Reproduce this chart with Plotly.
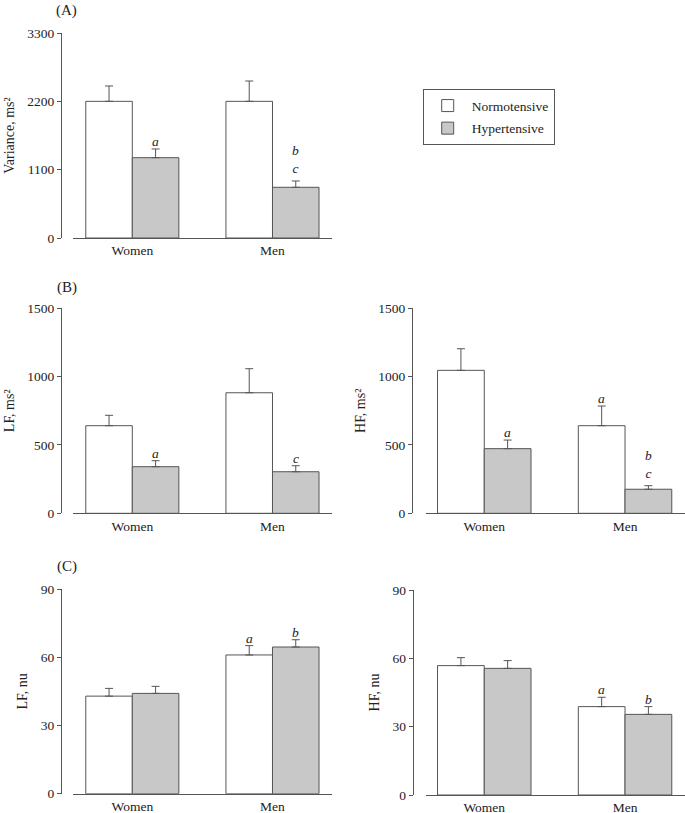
import plotly.graph_objects as go

# ---------------- data ----------------
categories = ["Women", "Men"]
cat_pos = [0, 1]

variance_normo = [2200, 2200]
variance_normo_sem = [247, 327]
variance_hyper = [1293, 816]
variance_hyper_sem = [140, 102]

lf_ms_normo = [641, 882]
lf_ms_normo_sem = [76, 176]
lf_ms_hyper = [341, 304]
lf_ms_hyper_sem = [44, 44]

hf_ms_normo = [1046, 641]
hf_ms_normo_sem = [158, 144]
hf_ms_hyper = [473, 176]
hf_ms_hyper_sem = [63, 26]

lf_nu_normo = [42.9, 61.0]
lf_nu_normo_sem = [3.4, 4.1]
lf_nu_hyper = [44.1, 64.5]
lf_nu_hyper_sem = [3.1, 3.2]

hf_nu_normo = [56.8, 38.8]
hf_nu_normo_sem = [3.5, 4.1]
hf_nu_hyper = [55.6, 35.4]
hf_nu_hyper_sem = [3.4, 3.4]

# significance letters: (category index, series, letters top->bottom)
letters_A = [(0, "hyper", ["a"]), (1, "hyper", ["b", "c"])]
letters_B1 = [(0, "hyper", ["a"]), (1, "hyper", ["c"])]
letters_B2 = [(0, "hyper", ["a"]), (1, "normo", ["a"]), (1, "hyper", ["b", "c"])]
letters_C1 = [(1, "normo", ["a"]), (1, "hyper", ["b"])]
letters_C2 = [(1, "normo", ["a"]), (1, "hyper", ["b"])]

series_names = ["Normotensive", "Hypertensive"]

# ---------------- layout geometry (pixels of the page) ----------------
W, H = 685, 813
FONT = "Liberation Serif, Times New Roman, serif"
LINE = "#555555"
GRAY = "#c8c8c8"
TXT = "#222222"


def fx(px):
    return px / W


def fy(py):
    return 1 - py / H


panels = [
    # name, normo, normo_sem, hyper, hyper_sem, ymax, dtick, title, x0, x1, ytop, ybot, yaxis_x, xrange, letters
    ("A", variance_normo, variance_normo_sem, variance_hyper, variance_hyper_sem,
     3300, 1100, "Variance, ms²", 73.3, 331.5, 33, 238, 61, [-0.421, 1.421], letters_A),
    ("B1", lf_ms_normo, lf_ms_normo_sem, lf_ms_hyper, lf_ms_hyper_sem,
     1500, 500, "LF, ms²", 73.3, 331.5, 308.3, 513.3, 61, [-0.421, 1.421], letters_B1),
    ("B2", hf_ms_normo, hf_ms_normo_sem, hf_ms_hyper, hf_ms_hyper_sem,
     1500, 500, "HF, ms²", 426, 685, 308.3, 513.3, 412, [-0.414, 1.426], letters_B2),
    ("C1", lf_nu_normo, lf_nu_normo_sem, lf_nu_hyper, lf_nu_hyper_sem,
     90, 30, "LF, nu", 73.3, 331.5, 589, 793.7, 61, [-0.421, 1.421], letters_C1),
    ("C2", hf_nu_normo, hf_nu_normo_sem, hf_nu_hyper, hf_nu_hyper_sem,
     90, 30, "HF, nu", 426, 685, 590, 795, 412.7, [-0.414, 1.426], letters_C2),
]

fig = go.Figure()
layout = {}
annotations = []
BARGAP = 0.336
half = (1 - BARGAP) / 4  # offset of each bar centre from the category centre

for i, (name, nv, ns, hv, hs, ymax, dtick, ytitle, x0, x1, yt, yb, yax, xr, letters) in enumerate(panels):
    k = "" if i == 0 else str(i + 1)
    xa, ya = "x" + k, "y" + k
    for j, (vals, sem, color) in enumerate([(nv, ns, "white"), (hv, hs, GRAY)]):
        fig.add_trace(go.Bar(
            x=cat_pos, y=vals, name=series_names[j],
            legendgroup=series_names[j], showlegend=(i == 0),
            marker=dict(color=color, line=dict(color=LINE, width=1)),
            error_y=dict(type="data", symmetric=False, array=sem,
                         arrayminus=[0] * len(sem), color=LINE,
                         thickness=1, width=4),
            xaxis=xa, yaxis=ya,
        ))
    layout["xaxis" + k] = dict(
        domain=[fx(x0), min(fx(x1), 1)], anchor=ya, range=xr,
        tickmode="array", tickvals=cat_pos, ticktext=categories,
        showline=True, linecolor=LINE, linewidth=1, ticks="",
        showgrid=False, zeroline=False, fixedrange=True,
        tickfont=dict(family=FONT, size=13.5, color=TXT),
        automargin=False,
    )
    layout["yaxis" + k] = dict(
        domain=[fy(yb), fy(yt)], anchor="free", position=fx(yax),
        range=[0, ymax], tick0=0, dtick=dtick,
        showline=True, linecolor=LINE, linewidth=1,
        ticks="outside", ticklen=4, tickcolor=LINE, tickwidth=1,
        showgrid=False, zeroline=False, fixedrange=True,
        tickfont=dict(family=FONT, size=13.5, color=TXT),
        title=dict(text=ytitle, font=dict(family=FONT, size=14, color=TXT), standoff=8),
        automargin=False,
    )
    data = {"normo": (nv, ns), "hyper": (hv, hs)}
    for (ci, ser, stack) in letters:
        v, s = data[ser]
        xpos = cat_pos[ci] + (-half if ser == "normo" else half)
        text = "<br>".join("<i>" + letter + "</i>" for letter in stack)
        annotations.append(dict(
            x=xpos, y=v[ci] + s[ci], xref=xa, yref=ya,
            text=text, showarrow=False,
            yanchor="bottom", xanchor="center",
            yshift=-2 if len(stack) == 1 else 3,
            font=dict(family=FONT, size=13.5, color=TXT),
        ))

# panel labels
for lab, px, py in [("(A)", 66.5, 10), ("(B)", 66.5, 287), ("(C)", 66.5, 566)]:
    annotations.append(dict(
        x=fx(px), y=fy(py), xref="paper", yref="paper", text=lab,
        showarrow=False, xanchor="center", yanchor="middle",
        font=dict(family=FONT, size=15, color=TXT),
    ))

fig.update_layout(
    **layout,
    annotations=annotations,
    barmode="group", bargap=BARGAP, bargroupgap=0,
    width=W, height=H, autosize=False,
    margin=dict(l=0, r=0, t=0, b=0),
    paper_bgcolor="white", plot_bgcolor="white",
    legend=dict(
        x=fx(422.7), y=fy(89.3), xanchor="left", yanchor="top",
        bordercolor=LINE, borderwidth=1, bgcolor="white",
        font=dict(family=FONT, size=13.5, color=TXT),
        itemwidth=38, tracegroupgap=2,
    ),
    showlegend=True,
)

# remove the browser's default 8px body margin so the figure fills the window
fig.write_html(
    "out.html",
    config={"displayModeBar": False},
    post_script="document.body.style.margin='0';document.body.style.overflow='hidden';",
)
